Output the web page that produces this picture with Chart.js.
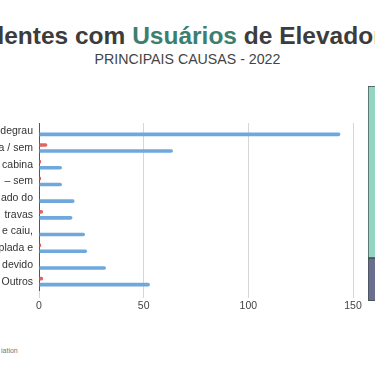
<!DOCTYPE html>
<html>
<head>
<meta charset="utf-8">
<script src="https://cdn.jsdelivr.net/npm/chart.js@4/dist/chart.umd.min.js"></script>
<style>
  html, body { margin: 0; padding: 0; background: #fff; width: 375px; height: 366px; overflow: hidden; position: relative; font-family: "Liberation Sans", Arial, sans-serif; }
  #title { position: absolute; left: -157px; width: 675px; top: 22px; text-align: center; font-size: 24.5px; line-height: 28px; font-weight: bold; color: #3c3c3c; white-space: nowrap; }
  #title .hl { color: #3e7e6e; }
  #subtitle { position: absolute; left: 0; width: 375px; top: 51px; text-align: center; font-size: 14.2px; line-height: 16px; color: #444; white-space: nowrap; }
  #main { position: absolute; left: 0; top: 118px; }
  #side { position: absolute; left: 368px; top: 86px; }
  #note { position: absolute; left: 1px; top: 347px; font-size: 7px; color: #777; white-space: nowrap; }
  canvas { display: block; }
</style>
</head>
<body>
<div id="title">Acidentes com <span class="hl">Usuários</span> de Elevadores</div>
<div id="subtitle">PRINCIPAIS CAUSAS - 2022</div>
<div id="main"><canvas id="c1" width="365" height="202"></canvas></div>
<div id="side"><canvas id="c2" width="30" height="215"></canvas></div>
<div id="note">iation</div>
<script>
const categories = ["degrau", "a / sem", "cabina", "– sem", "ado do", "travas", "e caiu,", "plada e", "devido", "Outros"];
const redValues  = [0, 4, 1, 1, 0, 2, 0, 1, 0, 2];
const blueValues = [144, 64, 11, 11, 17, 16, 22, 23, 32, 53];
const xTicks = [0, 50, 100, 150];
const sideCategories = ["2022"];
const sideBottom = [20];
const sideTop = [80];

new Chart(document.getElementById('c1'), {
  type: 'bar',
  data: {
    labels: categories,
    datasets: [
      { data: redValues, backgroundColor: '#e06666', borderRadius: 2, categoryPercentage: 0.72, barPercentage: 0.6 },
      { data: blueValues, backgroundColor: '#6fa8dc', borderRadius: 2, categoryPercentage: 0.72, barPercentage: 0.6 }
    ]
  },
  options: {
    indexAxis: 'y',
    responsive: false,
    animation: false,
    events: [],
    layout: { padding: { top: 5, right: 12, left: 0, bottom: 0 } },
    plugins: { legend: { display: false }, tooltip: { enabled: false }, title: { display: false } },
    scales: {
      x: {
        min: 0, max: 150,
        afterBuildTicks: s => { s.ticks = xTicks.map(v => ({ value: v })); },
        afterFit: s => { s.height = 30; },
        grid: { color: '#d6d6d6', lineWidth: 1, tickLength: 8, drawTicks: true },
        border: { display: false },
        ticks: { color: '#444', font: { family: 'Liberation Sans', size: 10.5 }, padding: 2 }
      },
      y: {
        afterFit: s => { s.width = 39; s.paddingTop = 0; s.paddingBottom = 0; },
        grid: { display: false, drawTicks: false },
        border: { display: true, color: '#555', width: 1 },
        ticks: { color: '#333', font: { family: 'Liberation Sans', size: 10.5 }, padding: 6, autoSkip: false }
      }
    }
  }
});

new Chart(document.getElementById('c2'), {
  type: 'bar',
  data: {
    labels: sideCategories,
    datasets: [
      { data: sideBottom, backgroundColor: '#6b6f8f', borderColor: '#3f4b4b', borderWidth: 1, borderSkipped: false, categoryPercentage: 1, barPercentage: 1 },
      { data: sideTop, backgroundColor: '#93d5c0', borderColor: '#3f4b4b', borderWidth: 1, borderSkipped: false, categoryPercentage: 1, barPercentage: 1 }
    ]
  },
  options: {
    responsive: false,
    animation: false,
    events: [],
    layout: { padding: 0 },
    plugins: { legend: { display: false }, tooltip: { enabled: false } },
    scales: {
      x: { stacked: true, display: false },
      y: { stacked: true, display: false, min: 0, max: 100 }
    }
  }
});
</script>
</body>
</html>
